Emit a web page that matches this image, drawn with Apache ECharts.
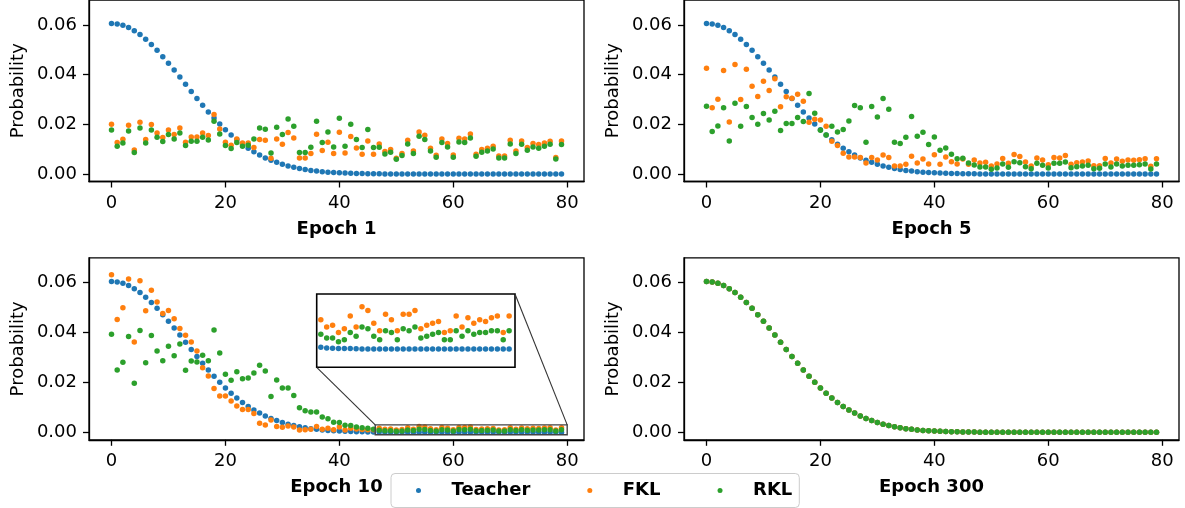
<!DOCTYPE html>
<html>
<head>
<meta charset="utf-8">
<script src="https://cdn.jsdelivr.net/npm/echarts@6/dist/echarts.min.js"></script>
<style>
html,body{margin:0;padding:0;background:#fff;}
#chart{width:1185px;height:508px;}
</style>
</head>
<body>
<div id="chart"></div>
<script>
// ---------------- data ----------------
const tokenIndex = Array.from({length: 80}, (_, i) => i);
const xTicks = [0, 20, 40, 60, 80];
const yTicks = [0, 0.02, 0.04, 0.06];
const panelTitles = ['Epoch 1', 'Epoch 5', 'Epoch 10', 'Epoch 300'];
const seriesNames = ['Teacher', 'FKL', 'RKL'];

const teacher = [0.0605,0.0603,0.0598,0.0589,0.0576,0.0561,0.0542,0.0521,0.0498,0.0472,
0.0446,0.0418,0.0390,0.0361,0.0332,0.0304,0.0277,0.0250,0.0225,0.0201,
0.0178,0.0157,0.0138,0.0120,0.0104,0.0090,0.0077,0.0065,0.0055,0.0047,
0.0039,0.0032,0.0027,0.0022,0.0018,0.0014,0.0012,0.0009,0.0007,0.0006,
0.0005,0.0004,0.0003,0.0002,0.0002,0.0001,0.0001,0.0001,0.00005,0.00004,
0.00003,0.00002,0.00002,0.00001,0,0,0,0,0,0,
0,0,0,0,0,0,0,0,0,0,
0,0,0,0,0,0,0,0,0,0];

const fklEpoch1 = [0.0200,0.0127,0.0140,0.0196,0.0097,0.0208,0.0139,0.0199,0.0165,0.0147,
0.0177,0.0159,0.0185,0.0128,0.0149,0.0149,0.0165,0.0155,0.0239,0.0181,
0.0128,0.0116,0.0141,0.0125,0.0125,0.0107,0.0139,0.0136,0.0064,0.0141,
0.0120,0.0167,0.0145,0.0065,0.0065,0.0083,0.0160,0.0095,0.0128,0.0083,
0.0168,0.0085,0.0151,0.0105,0.0080,0.0133,0.0080,0.0121,0.0091,0.0099,
0.0064,0.0083,0.0136,0.0093,0.0169,0.0156,0.0104,0.0076,0.0141,0.0123,
0.0077,0.0144,0.0141,0.0161,0.0080,0.0099,0.0104,0.0112,0.0073,0.0073,
0.0136,0.0093,0.0133,0.0107,0.0123,0.0119,0.0125,0.0132,0.0067,0.0133];

const rklEpoch1 = [0.0177,0.0112,0.0125,0.0173,0.0087,0.0185,0.0125,0.0177,0.0148,0.0131,
0.0159,0.0141,0.0165,0.0115,0.0132,0.0132,0.0148,0.0137,0.0212,0.0161,
0.0115,0.0103,0.0127,0.0112,0.0116,0.0141,0.0185,0.0180,0.0085,0.0188,
0.0159,0.0221,0.0192,0.0087,0.0087,0.0108,0.0212,0.0127,0.0169,0.0109,
0.0224,0.0112,0.0200,0.0139,0.0107,0.0179,0.0107,0.0108,0.0081,0.0088,
0.0059,0.0075,0.0121,0.0083,0.0152,0.0139,0.0093,0.0068,0.0127,0.0109,
0.0068,0.0129,0.0127,0.0145,0.0072,0.0088,0.0093,0.0101,0.0065,0.0065,
0.0121,0.0083,0.0120,0.0096,0.0109,0.0104,0.0112,0.0120,0.0060,0.0119];

const fklEpoch5 = [0.0425,0.0267,0.0301,0.0416,0.0209,0.0441,0.0300,0.0421,0.0353,0.0312,
0.0373,0.0336,0.0383,0.0271,0.0311,0.0305,0.0321,0.0293,0.0208,0.0220,
0.0217,0.0192,0.0132,0.0115,0.0084,0.0069,0.0069,0.0067,0.0044,0.0067,
0.0056,0.0077,0.0067,0.0032,0.0032,0.0039,0.0072,0.0044,0.0060,0.0040,
0.0078,0.0039,0.0069,0.0049,0.0040,0.0060,0.0039,0.0056,0.0044,0.0047,
0.0032,0.0040,0.0063,0.0043,0.0079,0.0071,0.0048,0.0032,0.0065,0.0056,
0.0037,0.0067,0.0065,0.0075,0.0039,0.0045,0.0048,0.0052,0.0033,0.0033,
0.0063,0.0044,0.0060,0.0051,0.0056,0.0055,0.0057,0.0061,0.0031,0.0061];

const rklEpoch5 = [0.0273,0.0171,0.0193,0.0267,0.0133,0.0285,0.0192,0.0272,0.0227,0.0200,
0.0243,0.0217,0.0253,0.0175,0.0203,0.0203,0.0227,0.0211,0.0324,0.0245,
0.0176,0.0157,0.0192,0.0169,0.0179,0.0213,0.0276,0.0267,0.0128,0.0272,
0.0229,0.0304,0.0261,0.0128,0.0123,0.0148,0.0231,0.0152,0.0168,0.0119,
0.0149,0.0096,0.0105,0.0080,0.0061,0.0064,0.0044,0.0036,0.0028,0.0028,
0.0019,0.0024,0.0040,0.0027,0.0049,0.0045,0.0029,0.0021,0.0043,0.0035,
0.0024,0.0043,0.0043,0.0048,0.0025,0.0029,0.0032,0.0035,0.0021,0.0023,
0.0040,0.0028,0.0040,0.0032,0.0035,0.0035,0.0037,0.0040,0.0020,0.0040];

const fklEpoch10 = [0.0632,0.0453,0.0500,0.0615,0.0362,0.0608,0.0488,0.0570,0.0523,0.0477,
0.0489,0.0456,0.0416,0.0389,0.0362,0.0326,0.0259,0.0226,0.0176,0.0146,
0.0146,0.0126,0.0106,0.0092,0.0092,0.0075,0.0036,0.0029,0.0049,0.0023,
0.0020,0.0025,0.0021,0.0009,0.0010,0.0012,0.0023,0.0012,0.0016,0.0010,
0.0021,0.0009,0.0016,0.0013,0.0011,0.0010,0.0010,0.0016,0.0012,0.0013,
0.0009,0.0011,0.0018,0.0012,0.0023,0.0021,0.0014,0.0010,0.0019,0.0016,
0.0010,0.0019,0.0019,0.0021,0.0011,0.0013,0.0014,0.0015,0.0009,0.0010,
0.0018,0.0012,0.0017,0.0014,0.0016,0.0015,0.0017,0.0018,0.0009,0.0018];

const rklEpoch10 = [0.0393,0.0250,0.0281,0.0384,0.0197,0.0408,0.0279,0.0388,0.0326,0.0287,
0.0345,0.0307,0.0354,0.0249,0.0286,0.0282,0.0309,0.0287,0.0410,0.0318,
0.0233,0.0209,0.0243,0.0215,0.0218,0.0238,0.0269,0.0246,0.0144,0.0210,
0.0178,0.0178,0.0148,0.0099,0.0087,0.0082,0.0082,0.0061,0.0054,0.0040,
0.0039,0.0028,0.0027,0.0021,0.0018,0.0016,0.0012,0.0008,0.0006,0.0006,
0.0004,0.0005,0.0009,0.0007,0.0012,0.0011,0.0007,0.0005,0.0010,0.0009,
0.0005,0.0011,0.0010,0.0012,0.0006,0.0007,0.0008,0.0009,0.0005,0.0005,
0.0010,0.0007,0.0010,0.0008,0.0009,0.0009,0.0010,0.0010,0.0005,0.0010];

// epoch 300: student distributions coincide with the teacher
const fklEpoch300 = teacher.slice();
const rklEpoch300 = teacher.slice();

// inset zoom window (data space)
const insetX = [46.3, 80];
const insetY = [-0.001, 0.003];

// ---------------- chart ----------------
const FONT = 'DejaVu Sans';
const COLORS = ['#1f77b4', '#ff7f0e', '#2ca02c'];
const panels = [
  [teacher, fklEpoch1, rklEpoch1],
  [teacher, fklEpoch5, rklEpoch5],
  [teacher, fklEpoch10, rklEpoch10],
  [teacher, fklEpoch300, rklEpoch300]
];
const pts = arr => arr.map((v, i) => [tokenIndex[i], v]);

const gridBox = [
  {left: 89, top: -0.5, width: 495, height: 182},
  {left: 684, top: -0.5, width: 495, height: 182},
  {left: 89, top: 257.8, width: 495, height: 182},
  {left: 684, top: 257.8, width: 495, height: 182},
  {left: 316.7, top: 294, width: 198.3, height: 73.3}
];

const axisLineStyle = {color: '#000', width: 1.3};
const grids = gridBox.map((g, k) => Object.assign({
  show: true, backgroundColor: '#fff', borderColor: '#000',
  borderWidth: k === 4 ? 1.6 : 1.3, containLabel: false
}, g));

const xAxes = [], yAxes = [];
for (let k = 0; k < 4; k++) {
  xAxes.push({
    type: 'value', gridIndex: k, min: -3.95, max: 82.95,
    axisLine: {show: true, onZero: false, lineStyle: axisLineStyle},
    axisTick: {show: true, length: 6, customValues: xTicks, lineStyle: axisLineStyle},
    axisLabel: {customValues: xTicks, margin: 13, color: '#000', fontSize: 18, fontFamily: FONT},
    splitLine: {show: false},
    name: panelTitles[k], nameLocation: 'middle', nameGap: 39,
    nameTextStyle: {fontWeight: 'bold', fontSize: 18, color: '#000', fontFamily: FONT}
  });
  yAxes.push({
    type: 'value', gridIndex: k, min: -0.003, max: 0.07,
    axisLine: {show: true, onZero: false, lineStyle: axisLineStyle},
    axisTick: {show: true, length: 6, customValues: yTicks, lineStyle: axisLineStyle},
    axisLabel: {customValues: yTicks, margin: 12, color: '#000', fontSize: 18, fontFamily: FONT,
      formatter: v => Number(v).toFixed(2)},
    splitLine: {show: false},
    name: 'Probability', nameLocation: 'middle', nameGap: 62, nameRotate: 90,
    nameTextStyle: {fontSize: 18, color: '#000', fontFamily: FONT}
  });
}
// inset axes
xAxes.push({type: 'value', gridIndex: 4, min: insetX[0], max: insetX[1], show: false});
yAxes.push({type: 'value', gridIndex: 4, min: insetY[0], max: insetY[1], show: false});

const series = [];
panels.forEach((arrs, k) => {
  arrs.forEach((arr, s) => {
    series.push({
      type: 'scatter', name: seriesNames[s], xAxisIndex: k, yAxisIndex: k,
      data: pts(arr), symbolSize: 5.5, clip: true,
      itemStyle: {color: COLORS[s], opacity: 1},
      emphasis: {disabled: true}, silent: true
    });
  });
});
// inset series (same data as Epoch 10)
panels[2].forEach((arr, s) => {
  series.push({
    type: 'scatter', name: seriesNames[s], xAxisIndex: 4, yAxisIndex: 4,
    data: pts(arr), symbolSize: 5.5, clip: true,
    itemStyle: {color: COLORS[s], opacity: 1},
    emphasis: {disabled: true}, silent: true
  });
});

const chart = echarts.init(document.getElementById('chart'), null, {renderer: 'canvas'});
chart.setOption({
  animation: false,
  backgroundColor: '#fff',
  textStyle: {fontFamily: FONT},
  grid: grids,
  xAxis: xAxes,
  yAxis: yAxes,
  legend: {
    data: seriesNames,
    left: 391, top: 473.5,
    orient: 'horizontal',
    icon: 'circle', itemWidth: 14, itemHeight: 5, itemGap: 57,
    padding: [7, 7, 7, 25],
    backgroundColor: 'rgba(255,255,255,0.85)',
    borderColor: '#cccccc', borderWidth: 1, borderRadius: 4,
    textStyle: {fontWeight: 'bold', fontSize: 18, color: '#000', fontFamily: FONT,
      padding: [0, 0, 0, 21], lineHeight: 20},
    selectedMode: false
  },
  series: series
});

// inset indicator rectangle and connector lines, from data-space limits
const rTL = chart.convertToPixel({gridIndex: 2}, [insetX[0], insetY[1]]);
const rBR = chart.convertToPixel({gridIndex: 2}, [insetX[1], insetY[0]]);
const rTR = chart.convertToPixel({gridIndex: 2}, [insetX[1], insetY[1]]);
const iBL = chart.convertToPixel({gridIndex: 4}, [insetX[0], insetY[0]]);
const iTR = chart.convertToPixel({gridIndex: 4}, [insetX[1], insetY[1]]);
const lineStyle = {stroke: '#333', lineWidth: 1.1};
chart.setOption({
  graphic: [
    {type: 'rect', shape: {x: rTL[0], y: rTL[1], width: rBR[0] - rTL[0], height: rBR[1] - rTL[1]},
     style: {fill: 'none', stroke: '#444', lineWidth: 1.4}, z: 100, silent: true},
    {type: 'line', shape: {x1: iBL[0], y1: iBL[1], x2: rTL[0], y2: rTL[1]}, style: lineStyle, z: 100, silent: true},
    {type: 'line', shape: {x1: iTR[0], y1: iTR[1], x2: rTR[0], y2: rTR[1]}, style: lineStyle, z: 100, silent: true}
  ]
});
</script>
</body>
</html>
